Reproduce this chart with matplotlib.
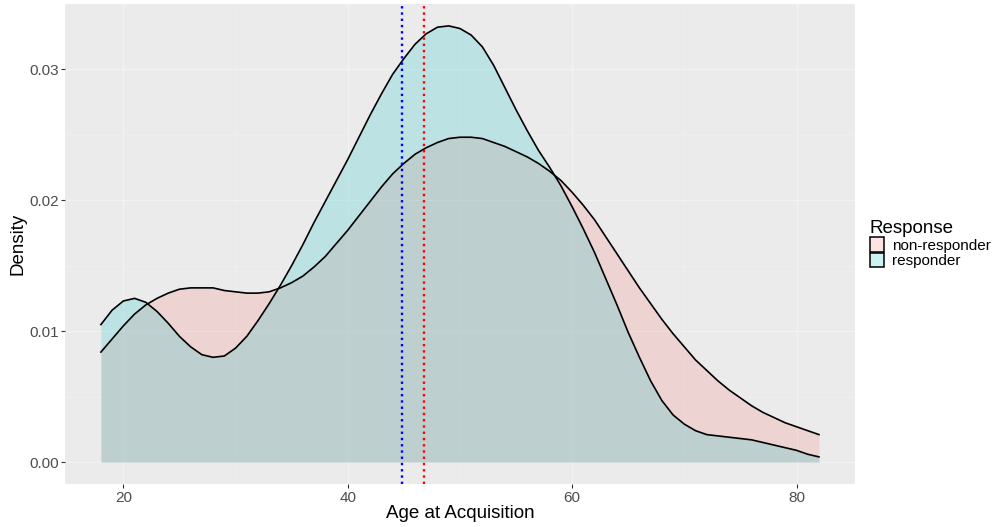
import numpy as np
import matplotlib.pyplot as plt
from matplotlib.colors import to_rgba

age = list(range(18, 83))

non_responder = [0.0084, 0.0094, 0.0104, 0.0113, 0.0120, 0.0125, 0.0129, 0.0132,
                 0.0133, 0.0133, 0.0133, 0.0131, 0.0130, 0.0129, 0.0129, 0.0130,
                 0.0133, 0.0137, 0.0142, 0.0149, 0.0157, 0.0167, 0.0177, 0.0188,
                 0.0199, 0.0210, 0.0220, 0.0228, 0.0235, 0.0240, 0.0244, 0.0247,
                 0.0248, 0.0248, 0.0247, 0.0244, 0.0241, 0.0237, 0.0233, 0.0228,
                 0.0222, 0.0215, 0.0206, 0.0196, 0.0185, 0.0172, 0.0159, 0.0146,
                 0.0133, 0.0121, 0.0109, 0.0098, 0.0088, 0.0078, 0.0070, 0.0062,
                 0.0055, 0.0049, 0.0043, 0.0038, 0.0034, 0.0030, 0.0027, 0.0024,
                 0.0021]

responder = [0.0105, 0.0116, 0.0123, 0.0125, 0.0122, 0.0115, 0.0106, 0.0096,
             0.0088, 0.0082, 0.0080, 0.0081, 0.0087, 0.0096, 0.0108, 0.0121,
             0.0135, 0.0150, 0.0166, 0.0183, 0.0199, 0.0215, 0.0231, 0.0248,
             0.0265, 0.0281, 0.0296, 0.0308, 0.0319, 0.0327, 0.0332, 0.0333,
             0.0331, 0.0326, 0.0317, 0.0303, 0.0286, 0.0269, 0.0253, 0.0238,
             0.0225, 0.0211, 0.0195, 0.0178, 0.0160, 0.0140, 0.0120, 0.0099,
             0.0080, 0.0062, 0.0047, 0.0036, 0.0029, 0.0024, 0.0021, 0.0020,
             0.0019, 0.0018, 0.0017, 0.0015, 0.0013, 0.0011, 0.0009, 0.0006,
             0.0004]

groups = ['non-responder', 'responder']
fills = ['#F8766D', '#00BFC4']
mean_age = {'responder': 44.8, 'non-responder': 46.8}

plt.rcParams['font.family'] = ['Liberation Sans', 'DejaVu Sans']

fig = plt.figure(figsize=(9.94, 5.27), dpi=100)
ax = fig.add_axes([0.0654, 0.0816, 0.7946, 0.9108])
ax.set_facecolor('#EBEBEB')

for name, dens, col in zip(groups, [non_responder, responder], fills):
    ax.fill_between(age, 0, dens, color=col, alpha=0.2, linewidth=0, label=name)
    ax.plot(age, dens, color='black', linewidth=1.2, solid_joinstyle='round')

ax.axvline(mean_age['responder'], color='blue', linestyle=':', linewidth=1.7)
ax.axvline(mean_age['non-responder'], color='red', linestyle=':', linewidth=1.7)

ax.set_xlim(14.8, 85.2)
ax.set_ylim(-0.00167, 0.03497)
ax.set_xticks([20, 40, 60, 80])
ax.set_yticks([0.0, 0.01, 0.02, 0.03])
ax.set_yticklabels(['0.00', '0.01', '0.02', '0.03'])
ax.set_xticks([30, 50, 70], minor=True)
ax.set_yticks([0.005, 0.015, 0.025], minor=True)
ax.grid(which='major', color='#F2F2F2', linewidth=1.0)
ax.grid(which='minor', color='#EFEFEF', linewidth=0.6)
ax.set_axisbelow(True)
for s in ax.spines.values():
    s.set_visible(False)
ax.tick_params(which='major', length=3.0, color='#333333', labelcolor='#4D4D4D',
               labelsize=11, width=0.8, pad=2)
ax.tick_params(axis='y', pad=1.5)
ax.tick_params(which='minor', length=0)

ax.set_xlabel('Age at Acquisition', fontsize=13.5, labelpad=0)
ax.set_ylabel('Density', fontsize=13.5, labelpad=2)

handles = [plt.Rectangle((0, 0), 1, 1, facecolor=to_rgba(c, 0.2),
                         edgecolor='black', linewidth=1.1) for c in fills]
leg = fig.legend(handles, groups, title='Response', loc='upper left',
                 bbox_to_anchor=(0.875, 0.582), bbox_transform=fig.transFigure,
                 frameon=False, fontsize=11, title_fontsize=13.5,
                 handlelength=0.95, handleheight=1.1, handletextpad=0.5,
                 labelspacing=0.0, borderaxespad=0, borderpad=0)
leg._legend_box.align = 'left'

fig.savefig('out.png', dpi=100)
